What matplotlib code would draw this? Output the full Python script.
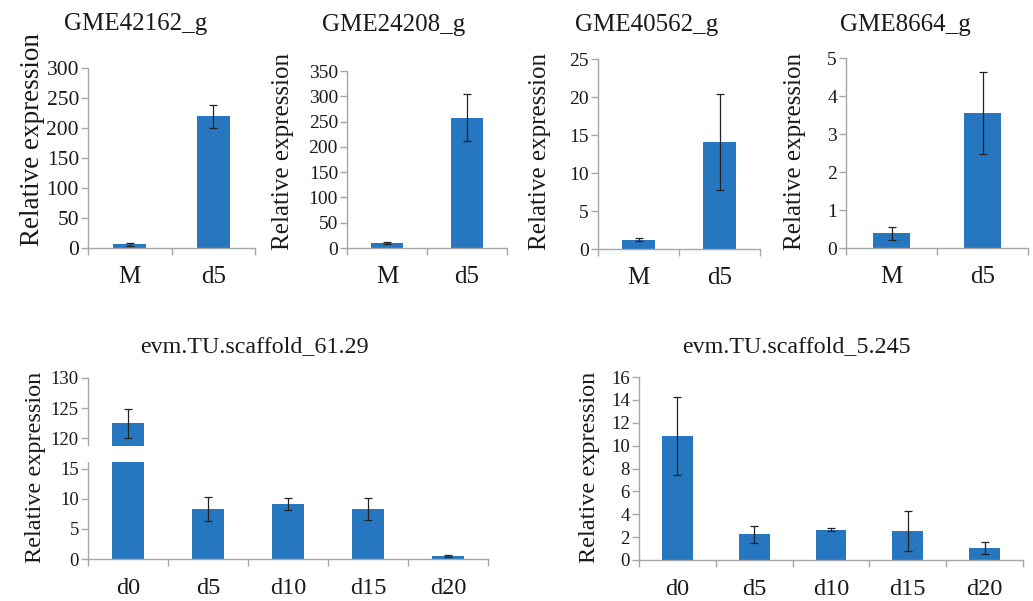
import matplotlib
matplotlib.use("Agg")
from matplotlib import pyplot as plt
from matplotlib.patches import Rectangle

plt.rcParams['font.family'] = ['Liberation Serif', 'DejaVu Serif']

W, H = 1033, 601
BLUE = '#2676C0'
GRAY = '#A6A6A6'
TXT = '#1a1a1a'

# top row: M vs d5
top_titles = ["GME42162_g", "GME24208_g", "GME40562_g", "GME8664_g"]
top_cats = ["M", "d5"]
top_vals = [[6.1, 219.5], [9.9, 257.9], [1.23, 14.1], [0.39, 3.55]]
top_errs = [[2.5, 19.0], [2.0, 46.0], [0.2, 6.3], [0.17, 1.07]]
top_ymax = [300, 350, 25, 5]
top_ystep = [50, 50, 5, 1]

# bottom row: time course
bot_titles = ["evm.TU.scaffold_61.29", "evm.TU.scaffold_5.245"]
bot_cats = ["d0", "d5", "d10", "d15", "d20"]
scaf61_vals = [122.5, 8.3, 9.1, 8.3, 0.5]
scaf61_errs = [2.4, 2.0, 1.0, 1.8, 0.1]
scaf5_vals = [10.86, 2.25, 2.66, 2.57, 1.02]
scaf5_errs = [3.4, 0.75, 0.15, 1.75, 0.52]

# broken axis for scaffold_61.29: 0..15 then 120..130
break_at = 100
y61_ticks = [0, 5, 10, 15, 120, 125, 130]


def squash(v):
    return v - break_at if v > break_at else v


def px_axes(l, r, t, b):
    return [l / W, 1 - b / H, (r - l) / W, (b - t) / H]


def style(ax, n, tick_fs, xlab_fs, xpad):
    for s in ['top', 'right']:
        ax.spines[s].set_visible(False)
    for s in ['left', 'bottom']:
        ax.spines[s].set_color(GRAY)
        ax.spines[s].set_linewidth(1.0)
    ax.set_xlim(-0.5, n - 0.5)
    ax.set_xticks(range(n))
    ax.set_xticks([i - 0.5 for i in range(n + 1)], minor=True)
    ax.tick_params(axis='x', which='major', length=0, pad=xpad, labelsize=xlab_fs, labelcolor=TXT)
    ax.tick_params(axis='x', which='minor', length=5, width=1, color=GRAY, direction='out')
    ax.tick_params(axis='y', length=5, width=1, color=GRAY, pad=1.5, labelsize=tick_fs, labelcolor=TXT)


fig = plt.figure(figsize=(W / 100, H / 100), dpi=100)

top_boxes = [(88, 255, 68, 248), (347, 507, 71, 248), (598, 760, 59, 249), (846, 1028, 58, 248)]
top_title_pos = [(136, 24), (394, 25), (647, 25), (905, 25)]
top_ylab_pos = [(33, 140), (283, 152), (540, 152), (795, 151)]
top_ylab_fs = [19.5, 18, 18, 18]
top_tick_fs = [15.5, 14, 14, 14]

for i in range(4):
    ax = fig.add_axes(px_axes(*top_boxes[i]))
    ax.bar(range(2), top_vals[i], width=0.4, color=BLUE, zorder=2)
    ax.errorbar(range(2), top_vals[i], yerr=top_errs[i], fmt='none', ecolor='#222222',
                elinewidth=0.9, capsize=3, capthick=0.9, zorder=3)
    ax.set_ylim(0, top_ymax[i])
    ax.set_yticks(range(0, top_ymax[i] + 1, top_ystep[i]))
    ax.set_xticklabels(top_cats)
    style(ax, 2, top_tick_fs[i], 18, 13)
    tx, ty = top_title_pos[i]
    fig.text(tx / W, 1 - ty / H, top_titles[i], ha='center', va='center', fontsize=18, color=TXT)
    lx, ly = top_ylab_pos[i]
    fig.text(lx / W, 1 - ly / H, "Relative expression", ha='center', va='center',
             rotation=90, fontsize=top_ylab_fs[i], color=TXT)

# bottom left with broken axis
ax = fig.add_axes(px_axes(88, 488, 378, 559))
v61 = [squash(v) for v in scaf61_vals]
ax.bar(range(5), v61, width=0.4, color=BLUE, zorder=2)
ax.errorbar(range(5), v61, yerr=scaf61_errs, fmt='none', ecolor='#222222',
            elinewidth=0.9, capsize=3, capthick=0.9, zorder=3)
ax.set_ylim(0, squash(130))
ax.set_yticks([squash(t) for t in y61_ticks])
ax.set_yticklabels([str(t) for t in y61_ticks])
ax.set_xticklabels(bot_cats)
style(ax, 5, 13.5, 17.5, 14)
ax.add_patch(Rectangle((-0.73, 16.1), 0.95, 2.7, facecolor='white', edgecolor='none',
                       clip_on=False, zorder=5))
fig.text(254 / W, 1 - 347 / H, bot_titles[0], ha='center', va='center', fontsize=17.3, color=TXT)
fig.text(36 / W, 1 - 467 / H, "Relative expression", ha='center', va='center',
         rotation=90, fontsize=17.5, color=TXT)

# bottom right
ax = fig.add_axes(px_axes(639, 1023, 377, 560))
ax.bar(range(5), scaf5_vals, width=0.4, color=BLUE, zorder=2)
ax.errorbar(range(5), scaf5_vals, yerr=scaf5_errs, fmt='none', ecolor='#222222',
            elinewidth=0.9, capsize=3, capthick=0.9, zorder=3)
ax.set_ylim(0, 16)
ax.set_yticks(range(0, 17, 2))
ax.set_xticklabels(bot_cats)
style(ax, 5, 13.5, 17.5, 14)
fig.text(796 / W, 1 - 347 / H, bot_titles[1], ha='center', va='center', fontsize=17.3, color=TXT)
fig.text(590 / W, 1 - 467 / H, "Relative expression", ha='center', va='center',
         rotation=90, fontsize=17.5, color=TXT)

fig.savefig("out.png", dpi=100, facecolor='white')
